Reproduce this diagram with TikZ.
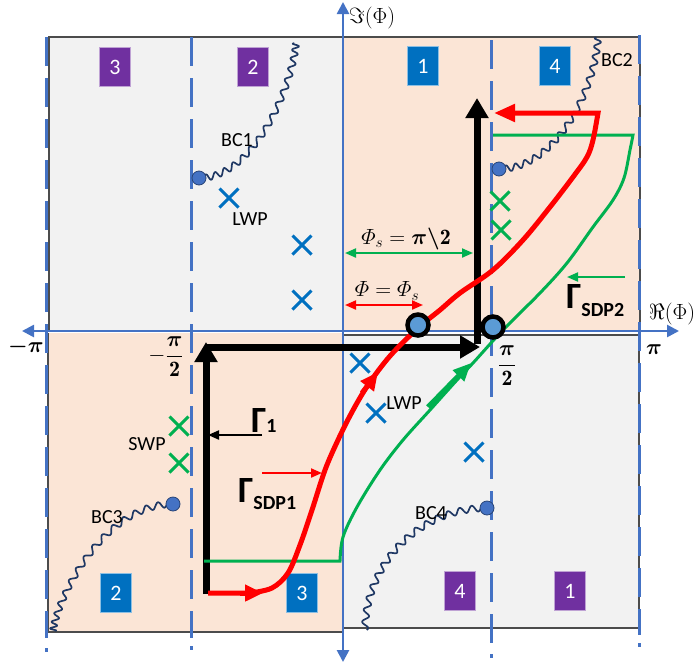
\RequirePackage{fix-cm}
\documentclass[tikz,border=0pt]{standalone}
\usepackage{amsmath,bm}
\usepackage{fontspec}
\newfontfamily\calib{Carlito}
\usetikzlibrary{arrows.meta,shapes.misc}

\definecolor{axisblue}{HTML}{4472C4}
\definecolor{boxblue}{HTML}{0070C0}
\definecolor{boxpurple}{HTML}{7030A0}
\definecolor{qgray}{HTML}{F2F2F2}
\definecolor{qpeach}{HTML}{FBE5D6}
\definecolor{cutnavy}{HTML}{1F3864}
\definecolor{pathgreen}{HTML}{00B050}
\definecolor{pathred}{HTML}{FF0000}
\definecolor{dotblue}{HTML}{5B9BD5}

\begin{document}
\begin{tikzpicture}[x=1pt,y=-1pt,
  quad/.style={draw=black!70, line width=1.2pt},
  branchline/.style={axisblue, line width=3pt, dash pattern=on 29pt off 12pt},
  branchend/.style={axisblue, line width=3pt},
  axisline/.style={axisblue, line width=2.6pt, {Triangle[width=12pt,length=12pt]}-{Triangle[width=12pt,length=12pt]}},
  sheet/.style={rectangle, minimum width=31pt, minimum height=39pt, inner sep=0pt,
    text=white, fill=#1, draw=#1!45!white, line width=0.8pt, font=\calib\fontsize{22}{22}\selectfont},
  cut/.style={cutnavy, line width=1.7pt, line join=round, smooth, samples=240, variable=\t, domain=0:89.5},
  bpoint/.style={circle, fill=axisblue, draw=axisblue!60!black, line width=0.8pt, minimum size=14pt, inner sep=0pt},
  wp/.style={cross out, draw=#1, line width=3pt, minimum size=16pt, inner sep=0pt},
  lbl/.style={font=\calib\fontsize{20}{22}\selectfont, inner sep=0pt},
  mlbl/.style={font=\fontsize{22}{26}\selectfont, inner sep=0pt},
  gam/.style={font=\calib\bfseries, inner sep=0pt, anchor=base west},
  saddle/.style={circle, minimum size=21pt, inner sep=0pt, fill=dotblue, draw=black, line width=4.5pt},
  contour/.style={line width=7pt, -{Triangle[width=22pt,length=20pt]}},
  sdpred/.style={pathred, line width=5pt},
  sdpgreen/.style={pathgreen, line width=3pt},
  pointer/.style={line width=2pt, -{Triangle[width=9pt,length=11pt]}},
  span/.style={line width=2pt, {Triangle[width=9pt,length=11pt]}-{Triangle[width=9pt,length=11pt]}}
]
\useasboundingbox (0,0) rectangle (698,667);

% quadrants of the Phi plane
\fill[qgray]  (49,37) rectangle (343,330);
\fill[qpeach] (343,37) rectangle (640,330);
\fill[qpeach] (48,333) rectangle (343,632);
\fill[qgray]  (343,335) rectangle (639,628);
\draw[quad] (49,330) -- (49,37) -- (343,37);
\draw[quad] (343,37) -- (640,37) -- (640,330);
\draw[quad] (48,333) -- (48,632) -- (343,632);
\draw[quad] (343,335) -- (639,335) -- (639,628) -- (343,628);

% sheet numbers
\node[sheet=boxpurple] (s3a) at (115,67) {3};
\node[sheet=boxpurple] (s2a) at (253,67) {2};
\node[sheet=boxblue]   (s1a) at (423,66) {1};
\node[sheet=boxblue]   (s4a) at (555,66) {4};
\node[sheet=boxblue]   (s2b) at (116,593) {2};
\node[sheet=boxblue]   (s3b) at (302,593) {3};
\node[sheet=boxpurple] (s4b) at (460,591) {4};
\node[sheet=boxpurple] (s1b) at (570,591) {1};

% dashed lines at -pi, -pi/2, pi/2, pi
\draw[branchline] (46,37) -- (46,638);   \draw[branchend] (46,648) -- (46,652);
\draw[branchline] (191,37) -- (191,638); \draw[branchend] (191,646) -- (191,650);
\draw[branchline] (491,40) -- (491,645); \draw[branchend] (491,654) -- (491,658);
\draw[branchline] (639,35) -- (639,635); \draw[branchend] (639,643) -- (639,647);

% axes
\draw[axisline] (343,662) -- (343,2);
\draw[axisline] (22,331) -- (679,331);

% branch cuts: wavy arcs leaving each branch point
\draw[cut] plot ({199+(97+3.2*sin(64*\t))*sin(\t)}, {43+(135+3.2*sin(64*\t))*cos(\t)^1.42});
\draw[cut] plot ({499+(99+3.2*sin(64*\t))*sin(\t)}, {37+(132+3.2*sin(64*\t))*cos(\t)^1.25});
\draw[cut] plot ({173-(120+3.2*sin(64*\t))*sin(\t)}, {631-(127+3.2*sin(64*\t))*cos(\t)^1.5});
\draw[cut] plot ({487-(122+3.2*sin(64*\t))*sin(\t)}, {631-(123+3.2*sin(64*\t))*cos(\t)});
\node[bpoint] (b1) at (199,178) {};
\node[bpoint] (b2) at (499,169) {};
\node[bpoint] (b3) at (173,504) {};
\node[bpoint] (b4) at (487,508) {};
\node[lbl] (bc1) at (237,140) {BC1};
\node[lbl] (bc2) at (617,60) {BC2};
\node[lbl] (bc3) at (107,517) {BC3};
\node[lbl] (bc4) at (431,513) {BC4};

% poles
\node[wp=boxblue] (p1) at (229,198) {};
\node[wp=boxblue] (p2) at (302,245) {};
\node[wp=boxblue] (p3) at (302,300) {};
\node[wp=boxblue] (p4) at (360,363) {};
\node[wp=boxblue] (p5) at (376,413) {};
\node[wp=boxblue] (p6) at (474,452) {};
\node[wp=pathgreen] (q1) at (179,426) {};
\node[wp=pathgreen] (q2) at (179,463) {};
\node[wp=pathgreen] (q3) at (500,201) {};
\node[wp=pathgreen] (q4) at (501,230) {};
\node[lbl] (lwp1) at (250,219) {LWP};
\node[lbl] (lwp2) at (404,403) {LWP};
\node[lbl] (swp) at (147,444) {SWP};

% contour Gamma_1
\coordinate (c0) at (206,594);
\coordinate (c1) at (206,342);
\coordinate (c2) at (207,347);
\coordinate (c3) at (480,347);
\coordinate (c4) at (477,344);
\coordinate (c5) at (477,98);
\draw[contour] (c0) -- (c1);
\draw[contour] (c2) -- (c3);
\draw[contour] (c4) -- (c5);

% steepest descent path through the second saddle
\coordinate (g0) at (204,561);
\coordinate (g1) at (340,561);
\coordinate (g2) at (633,135);
\coordinate (g3) at (493,135);
\draw[sdpgreen, line join=miter] (g0) -- (g1) -- plot[smooth, tension=0.55] coordinates {(340,561) (343,537) (357,507) (380,470) (403,440) (430,410) (457,380) (473,363) (503,330) (540,293) (567,263) (593,227) (613,200) (624,178) (630,150) (633,135)} -- (g3);
\draw[pathgreen, line width=5pt, -{Triangle[width=15pt,length=18pt]}] (428,407) -- (471,363);

% steepest descent path through the first saddle
\coordinate (r0) at (208,593);
\coordinate (r1) at (250,593);
\coordinate (r2) at (598,113);
\coordinate (r3) at (494,113);
\draw[sdpred, -{Triangle[width=17pt,length=21pt]}] (r0) -- (r1) -- plot[smooth, tension=0.55] coordinates {(250,593) (272,588) (288,573) (300,545) (312,510) (325,470) (338,440) (352,412) (368,385) (390,356) (418,328) (440,310) (460,293) (493,270) (523,240) (550,207) (573,177) (587,157) (593,140) (598,113)} -- (r3);
\draw[sdpred, -{Triangle[width=16pt,length=18pt]}] (240,593) -- (263,593);
\draw[sdpred, -{Triangle[width=16pt,length=18pt]}] (362,393) -- (378,372);

% saddle points
\node[saddle] (sp1) at (418,325) {};
\node[saddle] (sp2) at (493,327) {};

% distance markers
\coordinate (d0) at (345,253);
\coordinate (d1) at (473,253);
\coordinate (d2) at (345,305);
\coordinate (d3) at (423,305);
\draw[span, pathgreen] (d0) -- (d1);
\draw[span, pathred] (d2) -- (d3);
\node[mlbl] (phis) at (406,239) {$\varPhi_{s}=\bm{\pi}\boldsymbol{\backslash}\mathbf{2}$};
\node[mlbl] (phieq) at (387,291) {$\varPhi=\varPhi_{s}$};

% contour names and pointers
\node[gam] (gl1) at (251,432) {{\fontsize{37}{37}\selectfont Γ}{\fontsize{20}{20}\selectfont 1}};
\node[gam] (gl2) at (238,502) {{\fontsize{37}{37}\selectfont Γ}\raisebox{-7pt}{\fontsize{20}{20}\selectfont SDP1}};
\node[gam] (gl3) at (566,308) {{\fontsize{37}{37}\selectfont Γ}\raisebox{-8pt}{\fontsize{20}{20}\selectfont SDP2}};
\coordinate (k0) at (262,435);
\coordinate (k1) at (208,435);
\coordinate (k2) at (262,473);
\coordinate (k3) at (322,473);
\coordinate (k4) at (625,277);
\coordinate (k5) at (567,277);
\draw[pointer, black] (k0) -- (k1);
\draw[pointer, pathred] (k2) -- (k3);
\draw[pointer, pathgreen] (k4) -- (k5);

% axis labels and ticks
\node[mlbl] (relab) at (672,314) {$\Re(\Phi)$};
\node[mlbl] (imlab) at (372,18) {$\Im(\Phi)$};
\node[mlbl] (mpi) at (26,347) {$\bm{-\pi}$};
\node[mlbl] (ppi) at (654,350) {$\bm{\pi}$};
\node[mlbl] (mhalf) at (166,357) {$-\dfrac{\bm{\pi}}{\mathbf{2}}$};
\node[mlbl] (phalf) at (507,366) {$\dfrac{\bm{\pi}}{\mathbf{2}}$};
\end{tikzpicture}
\end{document}
